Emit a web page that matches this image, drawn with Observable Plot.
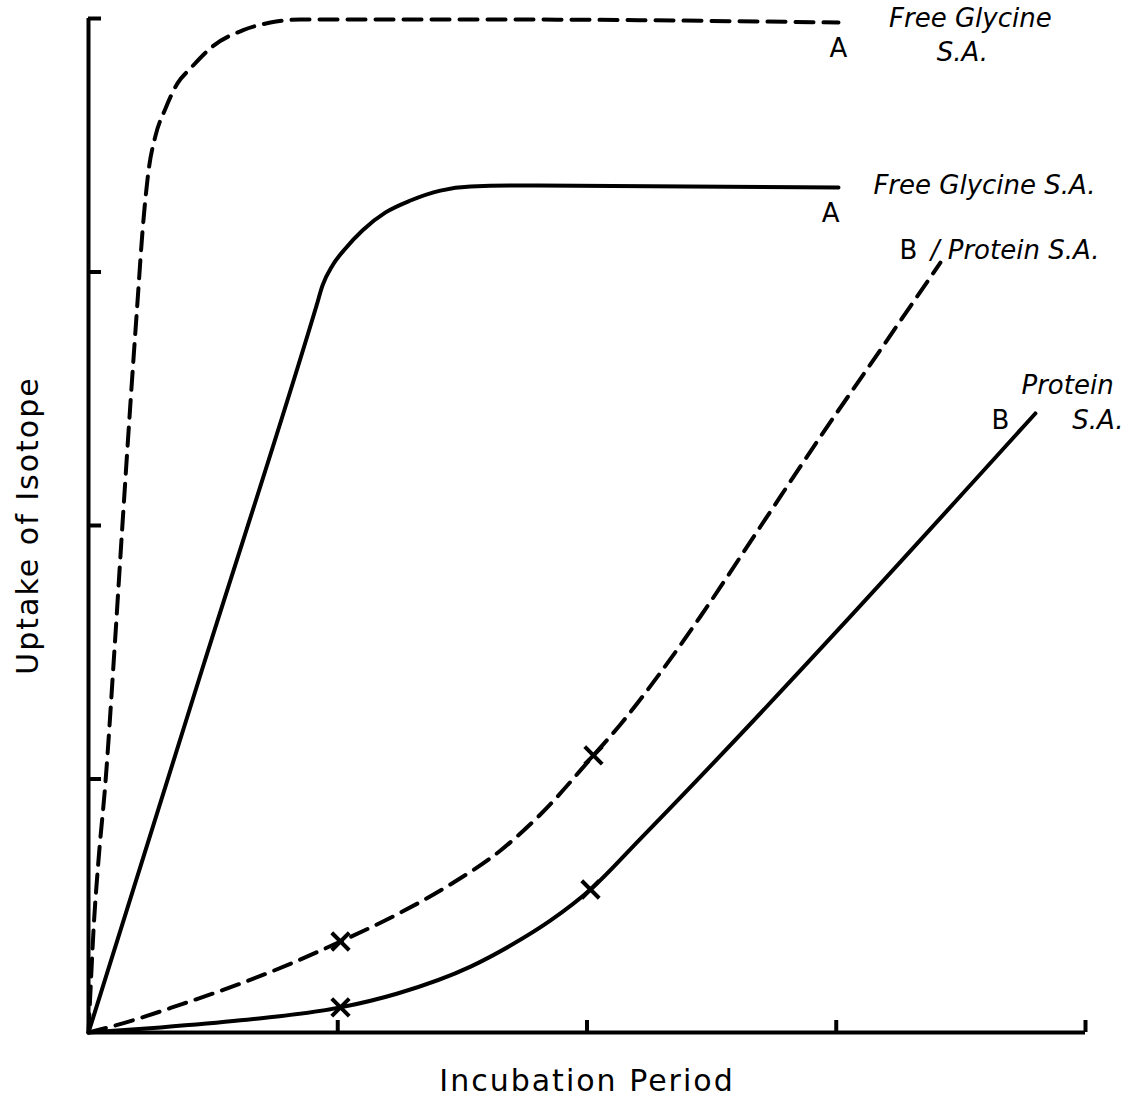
<!DOCTYPE html>
<html>
<head>
<meta charset="utf-8">
<script src="https://cdn.jsdelivr.net/npm/d3@7"></script>
<script src="https://cdn.jsdelivr.net/npm/@observablehq/plot@0.6"></script>
<style>
  html, body { margin: 0; padding: 0; background: #fff; }
  #chart { width: 1126px; height: 1100px; }
  #chart svg g[aria-label$="axis label"] text { letter-spacing: 2px; }
</style>
</head>
<body>
<div id="chart"></div>
<script>
// Incubation period (arbitrary units) vs uptake of isotope (arbitrary units)
const xTicks = [1, 2, 3, 4];
const yTicks = [1, 2, 3, 4];

// Curve A dashed: free glycine S.A. (upper)
const freeGlycineDashedX = [0, 0.008, 0.020, 0.040, 0.068, 0.104, 0.136, 0.169, 0.197, 0.217, 0.241, 0.269, 0.309, 0.357, 0.409, 0.502, 0.618, 0.730, 0.851, 1.653, 3.009];
const freeGlycineDashedY = [0, 0.166, 0.402, 0.678, 0.986, 1.507, 2.000, 2.493, 2.888, 3.164, 3.400, 3.538, 3.645, 3.744, 3.803, 3.893, 3.953, 3.984, 3.996, 3.996, 3.984];

// Curve A solid: free glycine S.A.
const freeGlycineSolidX = [0, 0.457, 0.915, 0.939, 0.979, 1.031, 1.099, 1.192, 1.292, 1.412, 1.533, 1.733, 3.009];
const freeGlycineSolidY = [0, 1.436, 2.868, 2.947, 3.026, 3.093, 3.164, 3.235, 3.282, 3.321, 3.337, 3.341, 3.333];

// Curve B dashed: protein S.A.
const proteinDashedX = [0, 0.148, 0.369, 0.610, 0.822, 1.011, 1.252, 1.452, 1.653, 1.813, 2.026, 2.134, 2.295, 2.455, 2.696, 2.937, 3.178, 3.418];
const proteinDashedY = [0, 0.039, 0.110, 0.193, 0.276, 0.359, 0.473, 0.584, 0.718, 0.860, 1.093, 1.215, 1.420, 1.641, 1.996, 2.351, 2.694, 3.037];

// Curve B solid: protein S.A.
const proteinSolidX = [0, 0.289, 0.610, 1.011, 1.240, 1.533, 1.693, 1.854, 2.014, 2.215, 3.799];
const proteinSolidY = [0, 0.020, 0.048, 0.099, 0.154, 0.260, 0.343, 0.442, 0.564, 0.765, 2.442];

// Measured points (crosses)
const crossX = [1.011, 2.026, 1.011, 2.014];
const crossY = [0.359, 1.093, 0.099, 0.564];

// Curve annotations (italic): centred ones and left-anchored ones
const midLabelText = ["Free Glycine", "S.A.", "Protein", "S.A."];
const midLabelX = [3.538, 3.506, 3.928, 4.050];
const midLabelY = [3.998, 3.866, 2.552, 2.414];

const startLabelText = ["Free Glycine S.A.", "/ Protein S.A."];
const startLabelX = [3.149, 3.379];
const startLabelY = [3.341, 3.085];

// Curve letters
const letterText = ["A", "A", "B", "B"];
const letterX = [3.009, 2.977, 3.290, 3.659];
const letterY = [3.882, 3.231, 3.085, 2.414];

const zip = (xs, ys) => xs.map((x, i) => ({x, y: ys[i]}));
const withText = (ts, xs, ys) => ts.map((t, i) => ({t, x: xs[i], y: ys[i]}));

const font = "'DejaVu Sans', sans-serif";
const dash = "18,10";
const curve = "monotone-x";

const plot = Plot.plot({
  width: 1126,
  height: 1100,
  marginLeft: 88,
  marginRight: 41,
  marginTop: 18,
  marginBottom: 68,
  style: {fontFamily: font, fontSize: "30px", color: "#000", background: "#fff", overflow: "visible"},
  x: {domain: [0, 4], axis: null},
  y: {domain: [0, 4], axis: null},
  marks: [
    Plot.axisX({ticks: xTicks, tickSize: -12, strokeWidth: 4, tickFormat: () => "", label: "Incubation Period", labelAnchor: "center", labelArrow: "none", labelOffset: 58}),
    Plot.axisY({ticks: yTicks, tickSize: -13, strokeWidth: 4, tickFormat: () => "", label: "Uptake of Isotope", labelAnchor: "center", labelArrow: "none", labelOffset: 72}),
    Plot.ruleY([0], {stroke: "#000", strokeWidth: 4}),
    Plot.ruleX([0], {stroke: "#000", strokeWidth: 4}),
    Plot.line(zip(freeGlycineDashedX, freeGlycineDashedY), {x: "x", y: "y", curve, stroke: "#000", strokeWidth: 4, strokeDasharray: dash}),
    Plot.line(zip(freeGlycineSolidX, freeGlycineSolidY), {x: "x", y: "y", curve, stroke: "#000", strokeWidth: 4}),
    Plot.line(zip(proteinDashedX, proteinDashedY), {x: "x", y: "y", curve, stroke: "#000", strokeWidth: 4, strokeDasharray: dash}),
    Plot.line(zip(proteinSolidX, proteinSolidY), {x: "x", y: "y", curve, stroke: "#000", strokeWidth: 4}),
    Plot.dot(zip(crossX, crossY), {x: "x", y: "y", symbol: "times", r: 8, stroke: "#000", strokeWidth: 4}),
    Plot.text(withText(midLabelText, midLabelX, midLabelY), {x: "x", y: "y", text: "t", textAnchor: "middle", fontStyle: "italic", fontSize: 26, fill: "#000"}),
    Plot.text(withText(startLabelText, startLabelX, startLabelY), {x: "x", y: "y", text: "t", textAnchor: "start", fontStyle: "italic", fontSize: 26, fill: "#000"}),
    Plot.text(withText(letterText, letterX, letterY), {x: "x", y: "y", text: "t", fontSize: 26, fill: "#000"})
  ]
});
document.getElementById("chart").appendChild(plot);
</script>
</body>
</html>
